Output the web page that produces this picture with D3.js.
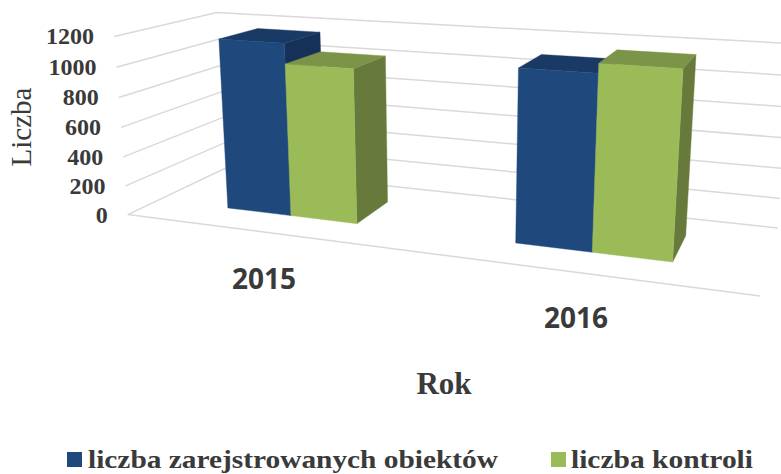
<!DOCTYPE html>
<html><head><meta charset="utf-8"><script src="https://cdn.jsdelivr.net/npm/d3@7"></script>
<style>html,body{margin:0;background:#fff;overflow:hidden}</style></head><body><svg id="c" width="781" height="474"></svg>
<script>
const years=['2015','2016'];
const seriesNames=['liczba zarejstrowanych obiektów','liczba kontroli'];
const registered=[1160,1100];
const inspections=[1025,1158];
const yTicks=[0,200,400,600,800,1000,1200];
const seriesValues=[registered,inspections];
const palette=[{front:'#1f497d',top:'#1a3a66',side:'#163157'},{front:'#9bbb59',top:'#7b9447',side:'#677a3b'}];
const ink='#3a3a3a';

// wall corners of the 3D box on screen: [x,y,z, screenX,screenY]
const corners=[[0,0,0,129,215],[0,1,0,224,168],[1,1,0,778,228],[1,0,0,760,296],[0,0,1,113,36],[0,1,1,218,13],[1,1,1,792,43.6]];
function solve(){const A=[],b=[];corners.forEach(([X,Y,Z,u,v])=>{A.push([X,Y,Z,1,0,0,0,0,-u*X,-u*Y,-u*Z]);b.push(u);A.push([0,0,0,0,X,Y,Z,1,-v*X,-v*Y,-v*Z]);b.push(v);});
const n=11,M=[];for(let i=0;i<n;i++){M[i]=[];for(let j=0;j<n;j++)M[i][j]=d3.sum(A,r=>r[i]*r[j])+(i==j?1e-9:0);M[i][n]=d3.sum(A,(r,k)=>r[i]*b[k]);}
for(let i=0;i<n;i++){let m=i;for(let k=i;k<n;k++)if(Math.abs(M[k][i])>Math.abs(M[m][i]))m=k;[M[i],M[m]]=[M[m],M[i]];for(let k=i+1;k<=n;k++)M[i][k]/=M[i][i];M[i][i]=1;for(let r=0;r<n;r++)if(r!=i){const f=M[r][i];for(let k=i;k<=n;k++)M[r][k]-=f*M[i][k];}}
return M.map(r=>r[n]);}
const p=solve();
const proj=(x,y,z)=>{const w=p[8]*x+p[9]*y+p[10]*z+1;return[(p[0]*x+p[1]*y+p[2]*z+p[3])/w,(p[4]*x+p[5]*y+p[6]*z+p[7])/w];};

const zScale=d3.scaleLinear().domain([0,1200]).range([0,1]);
const xCat=d3.scaleBand().domain(years).range([0.002,1.002]).paddingInner(0.528).paddingOuter(0.264);
const xSer=d3.scaleBand().domain(d3.range(seriesNames.length)).range([0,xCat.bandwidth()]);
const depth=d3.scaleBand().domain(['bar']).range([0,1]).padding(0.418);
const line3=d3.line();
const svg=d3.select('#c');
const serif='"Liberation Serif","Times New Roman",serif';

const grid=svg.append('g').attr('fill','none').attr('stroke','#d9d9d9').attr('stroke-width',1.5);
yTicks.forEach(t=>{const z=zScale(t);
  grid.append('path').attr('d',line3([proj(0,0,z),proj(0,1,z),proj(1,1,z)]));});
grid.append('path').attr('d',line3([proj(0,0,0),proj(1,0,0)]));

const d0=depth('bar'),d1=d0+depth.bandwidth();
const bars=svg.append('g');
years.forEach((yr,c)=>{seriesNames.forEach((s,i)=>{
  const x0=xCat(yr)+xSer(i),x1=x0+xSer.bandwidth(),z=zScale(seriesValues[i][c]),col=palette[i];
  const face=(pts,fill)=>bars.append('path').attr('d',line3(pts.map(q=>proj(...q)))+'Z').attr('fill',fill).attr('stroke',fill).attr('stroke-width',0.4);
  face([[x1,d0,0],[x1,d1,0],[x1,d1,z],[x1,d0,z]],col.side);
  face([[x0,d0,z],[x1,d0,z],[x1,d1,z],[x0,d1,z]],col.top);
  face([[x0,d0,0],[x1,d0,0],[x1,d0,z],[x0,d0,z]],col.front);
});});

// value labels follow the front edge of the left wall
yTicks.forEach(t=>{const q=proj(0,0,zScale(t));
  svg.append('text').attr('x',q[0]-20).attr('y',q[1]+8).attr('text-anchor','end')
   .attr('font-family',serif).attr('font-weight','bold').attr('font-size',24).attr('fill',ink).text(t);});
// year labels sit below the front edge
const yearPos=[[264,289],[576,328]];
years.forEach((y,i)=>svg.append('text').attr('x',yearPos[i][0]).attr('y',yearPos[i][1]).attr('text-anchor','middle')
  .attr('font-family','"Open Sans",sans-serif').attr('font-weight','bold').attr('font-size',28).attr('fill',ink).text(y));
svg.append('text').attr('transform','translate(31,127) rotate(-90)').attr('text-anchor','middle')
  .attr('font-family',serif).attr('font-size',29).attr('fill',ink).text('Liczba');
svg.append('text').attr('x',444).attr('y',394).attr('text-anchor','middle')
  .attr('font-family',serif).attr('font-weight','bold').attr('font-size',31).attr('fill',ink).text('Rok');
// legend
const legendLayout=[{sx:67,tx:88,w:410},{sx:551,tx:571,w:182}];
seriesNames.forEach((n,i)=>{
  svg.append('rect').attr('x',legendLayout[i].sx).attr('y',452).attr('width',15).attr('height',15).attr('fill',palette[i].front);
  svg.append('text').attr('x',legendLayout[i].tx).attr('y',468).attr('font-family',serif).attr('font-weight','bold').attr('font-size',26)
    .attr('fill',ink).attr('textLength',legendLayout[i].w).attr('lengthAdjust','spacingAndGlyphs').text(n);
});
</script></body></html>
